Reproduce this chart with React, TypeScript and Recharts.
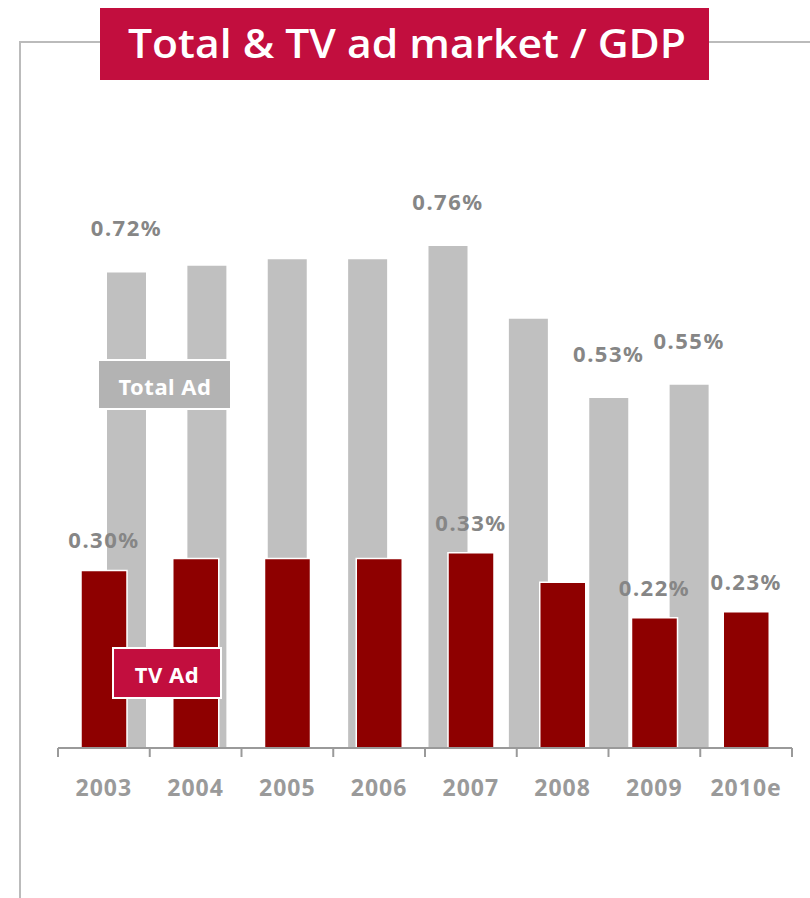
import { BarChart, Bar, XAxis, YAxis, LabelList } from "recharts";

const years = ["2003", "2004", "2005", "2006", "2007", "2008", "2009", "2010e"];
const totalAd = [0.72, 0.73, 0.74, 0.74, 0.76, 0.65, 0.53, 0.55];
const tvAd = [0.3, 0.32, 0.32, 0.32, 0.33, 0.28, 0.22, 0.23];
// which bars carry a value label in the original
const labelled = [true, false, false, false, true, false, true, true];

const data = years.map((year, i) => ({ year, total: totalAd[i], tv: tvAd[i] }));

const FONT = "'Noto Sans', 'Open Sans', sans-serif";
const CRIMSON = "#C20E3E";
const TV_RED = "#8E0000";
const GREY_BAR = "#C0C0C0";
const AXIS = "#9A9A9A";
const LABEL = "#868686";

function valueLabel(lift: number) {
  return (props: any) => {
    const { x, y, width, value, index } = props;
    if (!labelled[index]) return null;
    return (
      <text
        x={Number(x) + Number(width) / 2}
        y={Number(y) - lift}
        textAnchor="middle"
        fill={LABEL}
        fontFamily={FONT}
        fontWeight="bold"
        fontSize={22}
        letterSpacing={1.5}
      >
        {Number(value).toFixed(2)}%
      </text>
    );
  };
}

function YearTick(props: any) {
  const { x, y, payload, index } = props;
  const half = payload.offset ?? 46;
  return (
    <g>
      <line x1={x - half} x2={x - half} y1={y - 8} y2={y + 1} stroke={AXIS} strokeWidth={2} />
      {index === years.length - 1 && (
        <line x1={x + half} x2={x + half} y1={y - 8} y2={y + 1} stroke={AXIS} strokeWidth={2} />
      )}
      <text
        x={x}
        y={y + 40}
        textAnchor="middle"
        fill={AXIS}
        fontFamily={FONT}
        fontWeight="bold"
        fontSize={23}
        letterSpacing={1}
      >
        {payload.value}
      </text>
    </g>
  );
}

export default function App() {
  return (
    <div style={{ position: "absolute", left: 0, top: 0, width: 810, height: 898, background: "#fff" }}>
      <BarChart
        width={810}
        height={898}
        data={data}
        margin={{ top: 150, right: 18, bottom: 90, left: 58 }}
      >
        <XAxis
          xAxisId="tv"
          dataKey="year"
          height={60}
          interval={0}
          axisLine={{ stroke: AXIS, strokeWidth: 2 }}
          tickLine={false}
          tick={<YearTick />}
        />
        <XAxis xAxisId="total" dataKey="year" hide height={0} padding={{ left: 28, right: 63 }} />
        <YAxis yAxisId="total" hide domain={[0, 0.9054]} allowDataOverflow />
        <YAxis yAxisId="tv" hide domain={[0, 1.0101]} allowDataOverflow />
        <Bar
          dataKey="total"
          xAxisId="total"
          yAxisId="total"
          fill={GREY_BAR}
          barSize={39}
          isAnimationActive={false}
        >
          <LabelList dataKey="total" content={valueLabel(36)} />
        </Bar>
        <Bar
          dataKey="tv"
          xAxisId="tv"
          yAxisId="tv"
          fill={TV_RED}
          stroke="#fff"
          strokeWidth={1.5}
          barSize={46}
          isAnimationActive={false}
        >
          <LabelList dataKey="tv" content={valueLabel(22)} />
        </Bar>
      </BarChart>

      <svg
        width={810}
        height={898}
        style={{ position: "absolute", left: 0, top: 0, pointerEvents: "none" }}
      >
        <line x1={20} x2={810} y1={42} y2={42} stroke="#BBBBBB" strokeWidth={2} />
        <line x1={20} x2={20} y1={41} y2={898} stroke="#BBBBBB" strokeWidth={2} />
        <rect x={100} y={8} width={609} height={72} fill={CRIMSON} />
        <text
          x={407}
          y={58}
          textAnchor="middle"
          fill="#fff"
          fontFamily="'Open Sans', 'Noto Sans', sans-serif"
          fontWeight={600}
          fontSize={40}
          textLength={558}
          lengthAdjust="spacingAndGlyphs"
        >
          Total &amp; TV ad market / GDP
        </text>

        <rect x={98} y={360} width={133} height={49} fill="#B3B3B3" stroke="#fff" strokeWidth={2} />
        <text
          x={165}
          y={395}
          textAnchor="middle"
          fill="#fff"
          fontFamily={FONT}
          fontWeight="bold"
          fontSize={22}
          letterSpacing={0.5}
        >
          Total Ad
        </text>

        <rect x={113} y={648} width={108} height={50} fill={CRIMSON} stroke="#fff" strokeWidth={2} />
        <text
          x={167}
          y={683}
          textAnchor="middle"
          fill="#fff"
          fontFamily={FONT}
          fontWeight="bold"
          fontSize={22}
          letterSpacing={0.5}
        >
          TV Ad
        </text>
      </svg>
    </div>
  );
}
